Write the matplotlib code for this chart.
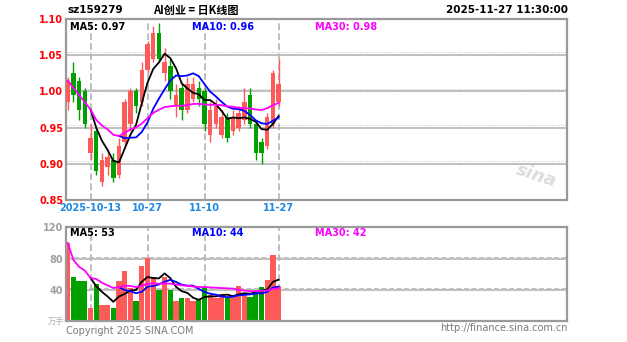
import matplotlib
matplotlib.use('Agg')
import matplotlib.pyplot as plt
import numpy as np
import pandas as pd

plt.rcParams['font.family'] = ['DejaVu Sans', 'Noto Sans CJK SC']

# daily K data for sz159279
dates = ['09-29', '09-30', '10-09', '10-10', '10-13', '10-14', '10-15', '10-16', '10-17',
         '10-20', '10-21', '10-22', '10-23', '10-24', '10-27', '10-28', '10-29', '10-30',
         '10-31', '11-03', '11-04', '11-05', '11-06', '11-07', '11-10', '11-11', '11-12',
         '11-13', '11-14', '11-17', '11-18', '11-19', '11-20', '11-21', '11-24', '11-25',
         '11-26', '11-27']
opens = [0.985, 1.025, 1.015, 1.00, 0.915, 0.945, 0.875, 0.895, 0.905, 0.885, 0.93, 0.955,
         1.00, 0.985, 1.03, 1.045, 1.08, 1.025, 1.035, 0.98, 1.005, 0.975, 0.99, 1.005,
         1.00, 0.94, 0.955, 0.94, 0.965, 0.945, 0.95, 0.96, 0.995, 0.955, 0.93, 0.925,
         0.955, 0.985]
highs = [1.02, 1.04, 1.02, 1.005, 0.955, 0.95, 0.915, 0.92, 0.915, 0.935, 0.99, 1.005,
         1.005, 1.04, 1.07, 1.09, 1.095, 1.06, 1.045, 1.01, 1.01, 1.02, 1.02, 1.015,
         1.005, 0.985, 0.99, 0.975, 0.97, 0.975, 0.98, 1.005, 1.005, 0.96, 0.935, 0.97,
         1.03, 1.045]
lows = [0.975, 0.985, 0.96, 0.95, 0.905, 0.885, 0.87, 0.885, 0.875, 0.88, 0.925, 0.945,
        0.97, 0.98, 1.025, 1.04, 1.04, 1.015, 0.99, 0.965, 0.96, 0.97, 0.985, 0.98,
        0.945, 0.93, 0.95, 0.935, 0.93, 0.94, 0.945, 0.955, 0.95, 0.905, 0.90, 0.92,
        0.95, 0.98]
closes = [1.015, 0.995, 0.975, 0.955, 0.935, 0.89, 0.905, 0.91, 0.88, 0.925, 0.985, 1.0,
          0.98, 1.03, 1.065, 1.08, 1.045, 1.04, 1.0, 0.995, 0.975, 1.01, 1.01, 0.99,
          0.955, 0.975, 0.98, 0.965, 0.935, 0.965, 0.97, 0.985, 0.955, 0.915, 0.915, 0.965,
          1.025, 1.01]
volumes = [100, 57, 51, 51, 17, 47, 21, 21, 17, 51, 64, 42, 25, 70, 81, 57, 40, 57, 40,
           25, 29, 29, 26, 27, 43, 33, 29, 34, 30, 33, 45, 36, 31, 39, 44, 52, 85, 45]

tick_idx = [4, 14, 24, 37]
tick_txt = ['2025-10-13', '10-27', '11-10', '11-27']
price_ticks = [0.85, 0.90, 0.95, 1.00, 1.05, 1.10]
vol_ticks = [40, 80, 120]

RED = '#ff5a5a'
GREEN = '#00a000'
GRID = '#b4b4b4'
FRAME = '#9a9a9a'

df = pd.DataFrame({'o': opens, 'h': highs, 'l': lows, 'c': closes, 'v': volumes})
x = np.arange(len(df))
up = df['c'] >= df['o']
cols = np.where(up, RED, GREEN)

ma5 = df['c'].rolling(5).mean()
ma10 = df['c'].rolling(10).mean()
ma30 = df['c'].rolling(30, min_periods=1).mean()
vma5 = df['v'].rolling(5).mean()
vma10 = df['v'].rolling(10).mean()
vma30 = df['v'].rolling(30, min_periods=1).mean()

W, H = 627, 342
fig = plt.figure(figsize=(W / 100, H / 100), dpi=100)


def fx(px):
    return px / W


def fy(py):
    return 1 - py / H


ax = fig.add_axes([fx(66), fy(200), fx(567 - 66), (200 - 19) / H])
ax2 = fig.add_axes([fx(66), fy(321), fx(567 - 66), (321 - 227) / H])

xmin, xmax = -0.3, -0.3 + (567 - 66) / 5.7

for a in (ax, ax2):
    a.set_xlim(xmin, xmax)
    for s in a.spines.values():
        s.set_color(FRAME)
        s.set_linewidth(1.6)
    a.set_xticks([])
    a.tick_params(axis='y', length=0, pad=2)
    for t in tick_idx:
        a.axvline(t, color=GRID, lw=1.2, ls=(0, (4, 2)), zorder=0)

# price panel
ax.set_ylim(0.85, 1.10)
ax.set_yticks(price_ticks)
ax.set_yticklabels([f'{p:.2f}' for p in price_ticks], color='red', fontsize=7, fontweight='bold')
for p in price_ticks[1:-1]:
    ax.axhline(p, color=GRID, lw=1.2, zorder=0)
    ax.axhline(p + 0.004, color=GRID, lw=0.6, ls=':', zorder=0)

ax.vlines(x, df['l'], df['h'], colors=cols, lw=1.0, zorder=2)
body_lo = np.minimum(df['o'], df['c'])
body_h = np.maximum(np.abs(df['c'] - df['o']), 0.002)
ax.bar(x, body_h, bottom=body_lo, width=0.8, color=cols, zorder=3)

ax.plot(x, ma5, color='black', lw=1.3, zorder=4)
ax.plot(x, ma10, color='#0000ff', lw=1.3, zorder=4)
ax.plot(x, ma30, color='#ff00ff', lw=1.3, zorder=4)

ax.text(0.008, 0.985, f'MA5: {ma5.iloc[-1]:.2f}', transform=ax.transAxes, fontsize=7,
        fontweight='bold', color='black', va='top')
ax.text(0.252, 0.985, f'MA10: {ma10.iloc[-1]:.2f}', transform=ax.transAxes, fontsize=7,
        fontweight='bold', color='#0000ff', va='top')
ax.text(0.498, 0.985, f'MA30: {ma30.iloc[-1]:.2f}', transform=ax.transAxes, fontsize=7,
        fontweight='bold', color='#ff00ff', va='top')

# watermark
fig.text(fx(536), fy(176), 'sina', fontsize=13, fontweight='bold', style='italic',
         color='#dcdcdc', ha='center', va='center', rotation=-18)

# date labels under price panel
for t, s in zip(tick_idx, tick_txt):
    ax.text(t, -0.015, s, transform=ax.get_xaxis_transform(), ha='center', va='top',
            fontsize=7, fontweight='bold', color='#1e88e5')

# volume panel
ax2.set_ylim(0, 120.5)
ax2.set_yticks(vol_ticks)
ax2.set_yticklabels([str(v) for v in vol_ticks], color='#a0a0a0', fontsize=7, fontweight='bold')
for v in vol_ticks[:-1]:
    ax2.axhline(v, color=GRID, lw=1.2, zorder=0)
    ax2.axhline(v + 2.5, color=GRID, lw=0.6, ls=(0, (6, 3)), zorder=0)
ax2.bar(x, df['v'], width=0.92, color=cols, zorder=2)
ax2.plot(x, vma5, color='black', lw=1.3, zorder=4)
ax2.plot(x, vma10, color='#0000ff', lw=1.3, zorder=4)
ax2.plot(x, vma30, color='#ff00ff', lw=1.3, zorder=4)

ax2.text(0.008, 0.985, f'MA5: {vma5.iloc[-1]:.0f}', transform=ax2.transAxes, fontsize=7,
         fontweight='bold', color='black', va='top')
ax2.text(0.252, 0.985, f'MA10: {vma10.iloc[-1]:.0f}', transform=ax2.transAxes, fontsize=7,
         fontweight='bold', color='#0000ff', va='top')
ax2.text(0.498, 0.985, f'MA30: {vma30.iloc[-1]:.0f}', transform=ax2.transAxes, fontsize=7,
         fontweight='bold', color='#ff00ff', va='top')

# header / footer texts
fig.text(fx(67), fy(10), 'sz159279', fontsize=7.5, fontweight='bold', va='center')
fig.text(fx(196), fy(10), 'AI创业 = 日K线图', fontsize=8, fontweight='bold', va='center',
         ha='center', family=['Noto Sans CJK SC', 'DejaVu Sans'])
fig.text(fx(568), fy(10), '2025-11-27 11:30:00', fontsize=7.5, fontweight='bold',
         va='center', ha='right')
fig.text(fx(64), fy(321), '万手', fontsize=6, color='#b0b0b0', va='center', ha='right',
         family=['Noto Sans CJK SC', 'DejaVu Sans'])
fig.text(fx(66), fy(331), 'Copyright 2025 SINA.COM', fontsize=7, color='#7a7a7a',
         va='center')
fig.text(fx(568), fy(328), 'http://finance.sina.com.cn', fontsize=7, color='#7a7a7a',
         va='center', ha='right')

fig.savefig('out.png', dpi=100, facecolor='white')
